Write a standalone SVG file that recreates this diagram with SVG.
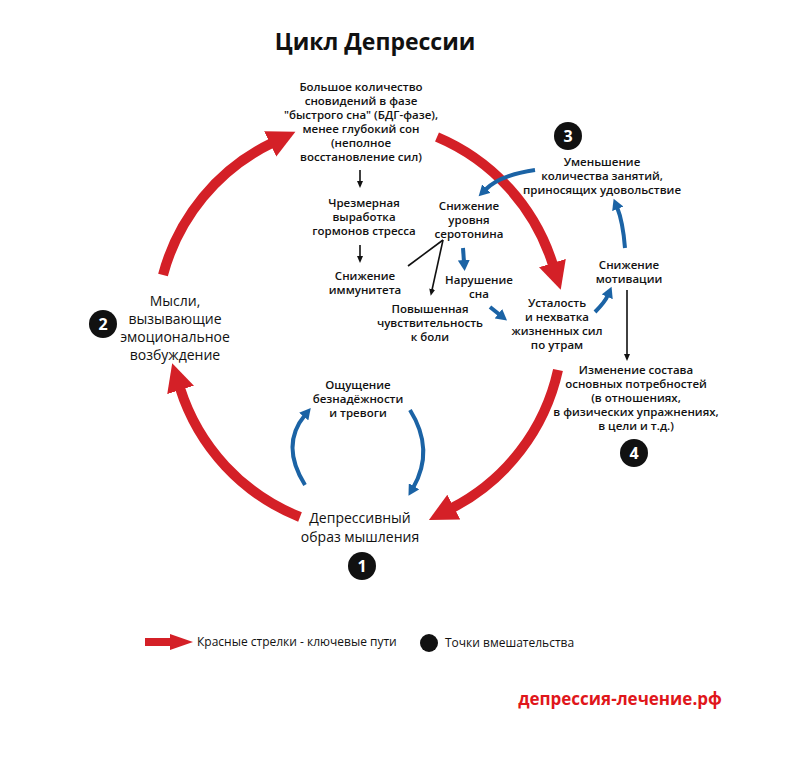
<svg xmlns="http://www.w3.org/2000/svg" width="800" height="759" viewBox="0 0 800 759">
<style>
text{font-family:"Open Sans","Liberation Sans",sans-serif;fill:#111;text-anchor:middle}
.s{font-size:11.5px;font-weight:600}
.m{font-size:14px}
.red{fill:none;stroke:#d42027;stroke-width:10}
.blue{fill:none;stroke:#1b63a5;stroke-width:4}
.blk{fill:none;stroke:#111;stroke-width:1.6}
.num{fill:#fff;font-size:16px;font-weight:700}
</style>
<defs>
<marker id="ra" markerUnits="userSpaceOnUse" markerWidth="30" markerHeight="30" refX="2" refY="15" orient="auto"><path d="M0,1 L28,15 L0,29 Z" fill="#d42027"/></marker>
<marker id="ba" markerUnits="userSpaceOnUse" markerWidth="12" markerHeight="12" refX="2" refY="6" orient="auto"><path d="M0,0 L11,6 L0,12 Z" fill="#1b63a5"/></marker>
<marker id="ka" markerUnits="userSpaceOnUse" markerWidth="8" markerHeight="8" refX="1" refY="4" orient="auto"><path d="M0,1 L7,4 L0,7 Z" fill="#111"/></marker>
</defs>
<rect width="800" height="759" fill="#fff"/>
<text x="375" y="50" style="font-size:23px;font-weight:700">Цикл Депрессии</text>
<g id="connectors">
<path class="red" d="M300 517 A205 205 0 0 1 180 388" marker-end="url(#ra)"/>
<path class="red" d="M163 275 A205 205 0 0 1 272 143" marker-end="url(#ra)"/>
<path class="red" d="M437 137 A205 205 0 0 1 553 265" marker-end="url(#ra)"/>
<path class="red" d="M558 370 A205 205 0 0 1 452 508" marker-end="url(#ra)"/>
<path class="blue" d="M305 485 Q280 445 305 415" marker-end="url(#ba)"/>
<path class="blue" d="M410 410 Q435 450 413 488" marker-end="url(#ba)"/>
<path class="blue" d="M535 170 Q500 175 485 190" marker-end="url(#ba)"/>
<path class="blue" d="M463 248 L464 262" marker-end="url(#ba)"/>
<path class="blue" d="M490 307 L500 315" marker-end="url(#ba)"/>
<path class="blue" d="M595 312 Q605 302 608 295" marker-end="url(#ba)"/>
<path class="blue" d="M625 248 Q623 222 617 207" marker-end="url(#ba)"/>
<path class="blk" d="M360 170 L360 182" marker-end="url(#ka)"/>
<path class="blk" d="M360 245 L360 257" marker-end="url(#ka)"/>
<path class="blk" d="M443 240 L408 266"/>
<path class="blk" d="M443 240 L432 290" marker-end="url(#ka)"/>
<path class="blk" d="M627 290 L627 355" marker-end="url(#ka)"/>
</g>
<g id="n-sleep" class="s"><text x="361" y="91">Большое количество</text><text x="361" y="105">сновидений в фазе</text><text x="361" y="119">"быстрого сна" (БДГ-фазе),</text><text x="361" y="133">менее глубокий сон</text><text x="361" y="147">(неполное</text><text x="361" y="161">восстановление сил)</text></g>
<g id="n-hormones" class="s"><text x="364" y="207">Чрезмерная</text><text x="364" y="221">выработка</text><text x="364" y="235">гормонов стресса</text></g>
<g id="n-immunity" class="s"><text x="365" y="280">Снижение</text><text x="365" y="294">иммунитета</text></g>
<g id="n-serotonin" class="s"><text x="469" y="210">Снижение</text><text x="469" y="224">уровня</text><text x="469" y="238">серотонина</text></g>
<g id="n-sleepdis" class="s"><text x="479" y="284">Нарушение</text><text x="479" y="298">сна</text></g>
<g id="n-pain" class="s"><text x="430" y="313">Повышенная</text><text x="430" y="327">чувствительность</text><text x="430" y="341">к боли</text></g>
<g id="n-fatigue" class="s"><text x="557" y="307">Усталость</text><text x="557" y="321">и нехватка</text><text x="557" y="335">жизненных сил</text><text x="557" y="349">по утрам</text></g>
<g id="n-motivation" class="s"><text x="629" y="269">Снижение</text><text x="629" y="283">мотивации</text></g>
<g id="n-activities" class="s"><text x="602" y="166">Уменьшение</text><text x="602" y="180">количества занятий,</text><text x="602" y="194">приносящих удовольствие</text></g>
<g id="n-needs" class="s"><text x="636" y="374">Изменение состава</text><text x="636" y="388">основных потребностей</text><text x="636" y="402">(в отношениях,</text><text x="636" y="416">в физических упражнениях,</text><text x="636" y="430">в цели и т.д.)</text></g>
<g id="n-hopeless" class="s"><text x="358" y="389">Ощущение</text><text x="358" y="403">безнадёжности</text><text x="358" y="417">и тревоги</text></g>
<g id="n-thinking" class="m"><text x="360" y="523">Депрессивный</text><text x="360" y="542">образ мышления</text></g>
<g id="n-thoughts" class="m"><text x="175" y="306">Мысли,</text><text x="175" y="324">вызывающие</text><text x="175" y="342">эмоциональное</text><text x="175" y="360">возбуждение</text></g>
<g id="p1"><circle cx="362" cy="566" r="14" fill="#111"/><text class="num" x="362" y="572">1</text></g>
<g id="p2"><circle cx="103" cy="324" r="14" fill="#111"/><text class="num" x="103" y="330">2</text></g>
<g id="p3"><circle cx="568" cy="136" r="14" fill="#111"/><text class="num" x="568" y="142">3</text></g>
<g id="p4"><circle cx="634" cy="453" r="14" fill="#111"/><text class="num" x="634" y="459">4</text></g>
<g id="legend">
<path d="M145 642 L172 642" stroke="#d42027" stroke-width="8"/><path d="M170 634 L193 642 L170 650 Z" fill="#d42027"/>
<text x="197" y="646" style="font-size:12px;text-anchor:start">Красные стрелки - ключевые пути</text>
<circle cx="429" cy="643" r="9" fill="#111"/>
<text x="445" y="647" style="font-size:12px;text-anchor:start">Точки вмешательства</text>
</g>
<text x="620" y="705" style="font-size:17px;font-weight:700;fill:#e0161b">депрессия-лечение.рф</text>
</svg>
